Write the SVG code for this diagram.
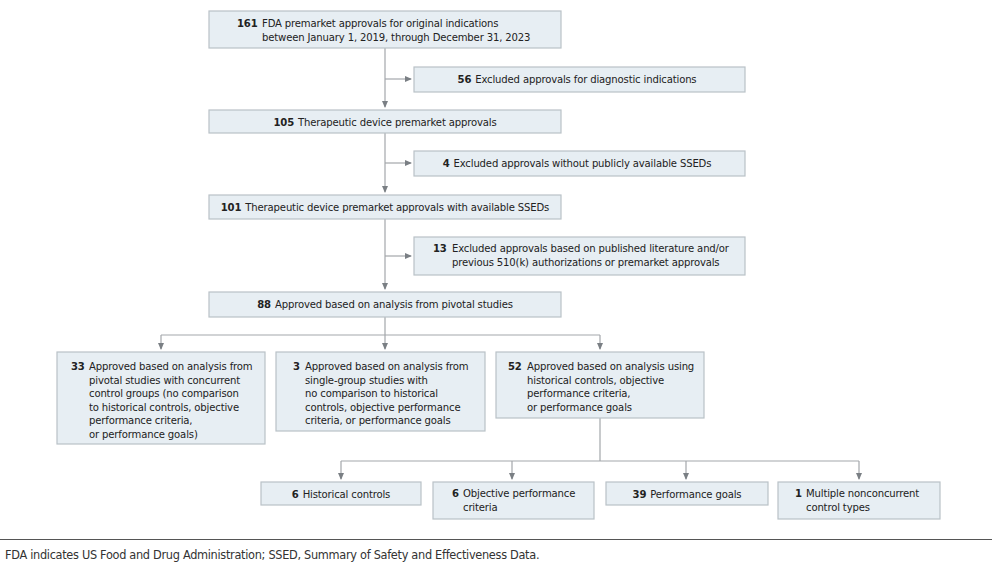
<svg xmlns="http://www.w3.org/2000/svg" width="1000" height="564" viewBox="0 0 1000 564">
<defs>
<style>
.box{fill:#e7eef3;stroke:#b9c1c7;stroke-width:1.2}
text{font-family:"DejaVu Sans Condensed","DejaVu Sans",sans-serif;font-stretch:condensed;font-size:11.2px;letter-spacing:-0.15px;fill:#222}
.b{font-weight:bold}
.c{text-anchor:middle}
.ln{fill:none;stroke:#a3a7ab;stroke-width:1.2}
.ft{font-size:12.6px;letter-spacing:-0.3px;fill:#333}
</style>
<marker id="ah" markerUnits="userSpaceOnUse" markerWidth="7" markerHeight="6" refX="6" refY="3" orient="auto">
<path d="M0,0 L7,3 L0,6 z" fill="#7a7f84"/>
</marker>
</defs>
<rect width="1000" height="564" fill="#ffffff"/>

<g id="connectors">
<path class="ln" d="M385,48 V107" marker-end="url(#ah)"/>
<path class="ln" d="M385,79 H411" marker-end="url(#ah)"/>
<path class="ln" d="M385,133 V192" marker-end="url(#ah)"/>
<path class="ln" d="M385,163 H411" marker-end="url(#ah)"/>
<path class="ln" d="M385,219 V289" marker-end="url(#ah)"/>
<path class="ln" d="M385,256 H411" marker-end="url(#ah)"/>
<path class="ln" d="M385,317 V335 M161,335 H600"/>
<path class="ln" d="M161,335 V349" marker-end="url(#ah)"/>
<path class="ln" d="M385,335 V349" marker-end="url(#ah)"/>
<path class="ln" d="M600,335 V349" marker-end="url(#ah)"/>
<path class="ln" d="M600,418 V461 M341,461 H859"/>
<path class="ln" d="M341,461 V479" marker-end="url(#ah)"/>
<path class="ln" d="M512,461 V479" marker-end="url(#ah)"/>
<path class="ln" d="M686,461 V479" marker-end="url(#ah)"/>
<path class="ln" d="M859,461 V479" marker-end="url(#ah)"/>
</g>

<g id="n161">
<rect class="box" x="209" y="11" width="352" height="37"/>
<text x="237" y="27"><tspan class="b">161</tspan><tspan x="262">FDA premarket approvals for original indications</tspan></text>
<text x="262" y="41">between January 1, 2019, through December 31, 2023</text>
</g>

<g id="n56">
<rect class="box" x="414" y="67" width="331" height="25"/>
<text class="c" x="577" y="83"><tspan class="b">56</tspan><tspan dx="4">Excluded approvals for diagnostic indications</tspan></text>
</g>

<g id="n105">
<rect class="box" x="209" y="110" width="352" height="23"/>
<text class="c" x="385" y="126"><tspan class="b">105</tspan><tspan dx="4">Therapeutic device premarket approvals</tspan></text>
</g>

<g id="n4">
<rect class="box" x="414" y="151" width="331" height="25"/>
<text class="c" x="577" y="167"><tspan class="b">4</tspan><tspan dx="4">Excluded approvals without publicly available SSEDs</tspan></text>
</g>

<g id="n101">
<rect class="box" x="209" y="195" width="352" height="24"/>
<text class="c" x="385" y="211"><tspan class="b">101</tspan><tspan dx="4">Therapeutic device premarket approvals with available SSEDs</tspan></text>
</g>

<g id="n13">
<rect class="box" x="414" y="237" width="331" height="38"/>
<text x="433" y="252"><tspan class="b">13</tspan><tspan x="452">Excluded approvals based on published literature and/or</tspan></text>
<text x="452" y="266">previous 510(k) authorizations or premarket approvals</text>
</g>

<g id="n88">
<rect class="box" x="209" y="292" width="352" height="25"/>
<text class="c" x="385" y="308"><tspan class="b">88</tspan><tspan dx="4">Approved based on analysis from pivotal studies</tspan></text>
</g>

<g id="n33">
<rect class="box" x="57" y="352" width="208" height="92"/>
<text x="71" y="370"><tspan class="b">33</tspan><tspan x="89">Approved based on analysis from</tspan></text>
<text x="89" y="383.5">pivotal studies with concurrent</text>
<text x="89" y="397">control groups (no comparison</text>
<text x="89" y="410.5">to historical controls, objective</text>
<text x="89" y="424">performance criteria,</text>
<text x="89" y="437.5">or performance goals)</text>
</g>

<g id="n3">
<rect class="box" x="276" y="352" width="209" height="79"/>
<text x="293" y="370"><tspan class="b">3</tspan><tspan x="305">Approved based on analysis from</tspan></text>
<text x="305" y="383.5">single-group studies with</text>
<text x="305" y="397">no comparison to historical</text>
<text x="305" y="410.5">controls, objective performance</text>
<text x="305" y="424">criteria, or performance goals</text>
</g>

<g id="n52">
<rect class="box" x="496" y="352" width="208" height="66"/>
<text x="508" y="370"><tspan class="b">52</tspan><tspan x="527">Approved based on analysis using</tspan></text>
<text x="527" y="383.5">historical controls, objective</text>
<text x="527" y="397">performance criteria,</text>
<text x="527" y="410.5">or performance goals</text>
</g>

<g id="n6hc">
<rect class="box" x="261" y="482" width="160" height="23"/>
<text class="c" x="341" y="498"><tspan class="b">6</tspan><tspan dx="4">Historical controls</tspan></text>
</g>

<g id="n6opc">
<rect class="box" x="433" y="482" width="161" height="37"/>
<text x="452" y="497"><tspan class="b">6</tspan><tspan x="463">Objective performance</tspan></text>
<text x="463" y="511">criteria</text>
</g>

<g id="n39">
<rect class="box" x="606" y="482" width="162" height="23"/>
<text class="c" x="687" y="498"><tspan class="b">39</tspan><tspan dx="4">Performance goals</tspan></text>
</g>

<g id="n1">
<rect class="box" x="778" y="482" width="162" height="37"/>
<text x="795" y="497"><tspan class="b">1</tspan><tspan x="806">Multiple nonconcurrent</tspan></text>
<text x="806" y="511">control types</text>
</g>

<g id="footer">
<line x1="0" y1="539.5" x2="992" y2="539.5" stroke="#555" stroke-width="1"/>
<text class="ft" x="5" y="559">FDA indicates US Food and Drug Administration; SSED, Summary of Safety and Effectiveness Data.</text>
</g>
</svg>
